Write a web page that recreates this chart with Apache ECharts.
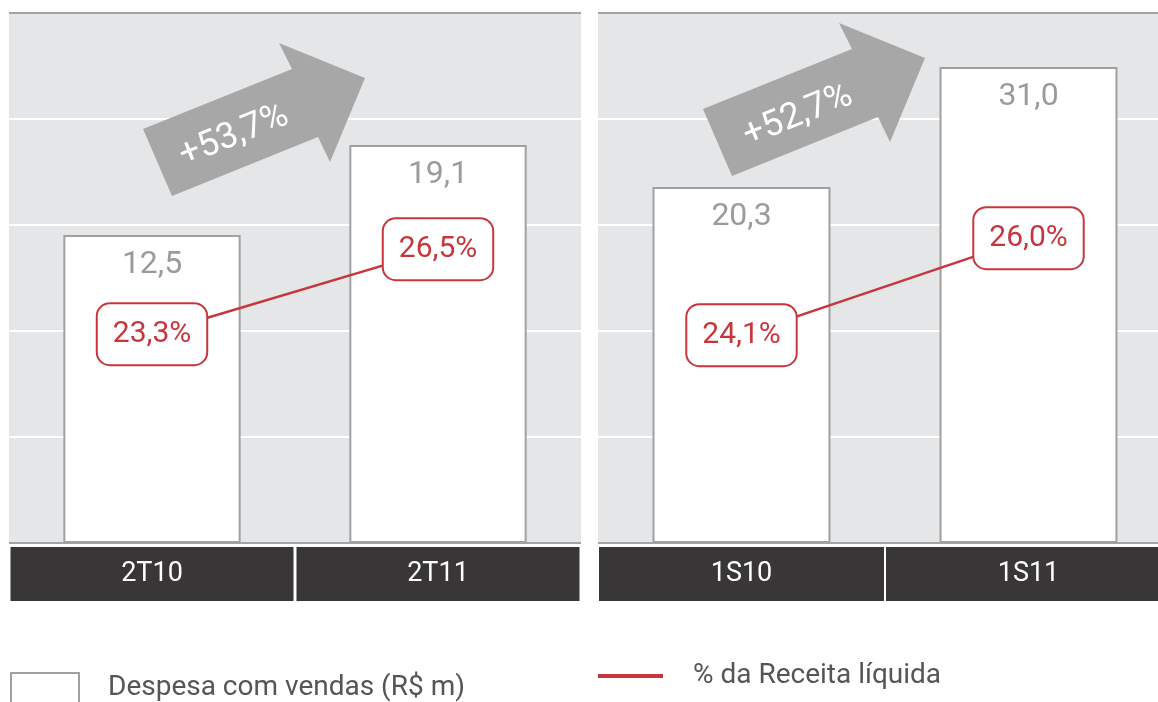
<!DOCTYPE html>
<html lang="pt">
<head>
<meta charset="utf-8" />
<title>Despesa com vendas</title>
<script src="https://cdn.jsdelivr.net/npm/echarts@6/dist/echarts.min.js"></script>
<style>
	html,body{margin:0;padding:0;background:#fff;overflow:hidden;}
	#main{width:1158px;height:702px;}
</style>
</head>
<body>
<div id="main"></div>
<script>
// dados
var catsA = ['2T10', '2T11'];
var catsB = ['1S10', '1S11'];
var despesaA = [12.5, 19.1];
var despesaB = [20.3, 31.0];
var receitaA = [23.3, 26.5];
var receitaB = [24.1, 26.0];
var growthLabels = ['+53,7%', '+52,7%'];
var legendNames = ['Despesa com vendas (R$ m)', '% da Receita líquida'];

var RED = '#c8363d';
var FONT = 'Roboto';

function fmt(v){ return v.toFixed(1).replace('.', ','); }

function gridAxis(g){
	return {
		gridIndex: g, type: 'value', min: 0, max: 5, interval: 1,
		axisLine: {show: false}, axisTick: {show: false}, axisLabel: {show: false},
		splitLine: {show: true, lineStyle: {width: 2, color: ['#a3a3a3', '#fff', '#fff', '#fff', '#fff', '#a3a3a3']}}
	};
}
function hiddenAxis(g, mn, mx){
	return {gridIndex: g, type: 'value', min: mn, max: mx, startValue: mn, show: false, splitLine: {show: false}};
}
function catAxis(g, cats, w){
	return {
		gridIndex: g, type: 'category', data: cats,
		axisLine: {show: false}, axisTick: {show: false},
		axisLabel: {
			interval: 0, margin: 4, color: '#fff', fontFamily: FONT, fontSize: 27, fontWeight: 'normal',
			backgroundColor: '#383637', width: w, height: 54, lineHeight: 54, align: 'center', verticalAlign: 'top'
		}
	};
}
function barSeries(x, y, data){
	return {
		name: legendNames[0], type: 'bar', xAxisIndex: x, yAxisIndex: y, data: data, barWidth: '62%',
		itemStyle: {color: '#fff', borderColor: '#a0a0a0', borderWidth: 2},
		label: {show: true, position: 'insideTop', distance: 14, fontFamily: FONT, fontSize: 32, color: '#9b9b9b',
			formatter: function(p){ return fmt(p.value); }}
	};
}
function lineSeries(x, y, data){
	return {
		name: legendNames[1], type: 'line', xAxisIndex: x, yAxisIndex: y, data: data,
		color: RED, lineStyle: {color: RED, width: 2.5}, symbol: 'circle', symbolSize: 2,
		label: {show: true, position: 'inside', fontFamily: FONT, fontSize: 30, color: RED,
			backgroundColor: '#fff', borderColor: RED, borderWidth: 2, borderRadius: 12, padding: [15, 15],
			formatter: function(p){ return fmt(p.value) + '%'; }}
	};
}

var arrowShape = [[0,0],[149,-60],[136,-86],[222,-51],[187,33],[175,8],[29,67]];

var myChart = echarts.init(document.getElementById('main'));
var option = {
	animation: false,
	backgroundColor: '#fff',
	grid: [
		{left: 9, top: 13, width: 572, height: 530, show: true, backgroundColor: '#e5e6e8', borderWidth: 0, outerBoundsMode: 'none'},
		{left: 598, top: 13, width: 574, height: 530, show: true, backgroundColor: '#e5e6e8', borderWidth: 0, outerBoundsMode: 'none'}
	],
	xAxis: [catAxis(0, catsA, 283), catAxis(1, catsB, 285)],
	yAxis: [
		gridAxis(0), hiddenAxis(0, -10.08, 28.78), hiddenAxis(0, 15.44, 35.39),
		gridAxis(1), hiddenAxis(1, -11.44, 35.82), hiddenAxis(1, 20.03, 30.41)
	],
	legend: [
		{data: [{name: legendNames[0], icon: 'rect'}], left: 10, top: 672, padding: 0, itemWidth: 68, itemHeight: 30, selectedMode: false,
			textStyle: {fontFamily: FONT, fontSize: 28, color: '#555', padding: [0, 0, 0, 24]}},
		{data: [{name: legendNames[1], icon: 'rect', itemStyle: {color: RED}}], left: 598, top: 662, padding: 0,
			itemWidth: 65, itemHeight: 4, selectedMode: false,
			textStyle: {fontFamily: FONT, fontSize: 28, color: '#555', padding: [0, 0, 0, 25]}}
	],
	graphic: [
		{type: 'polygon', x: 143, y: 129, z: 10, shape: {points: arrowShape}, style: {fill: '#a7a7a7'}},
		{type: 'polygon', x: 703, y: 109, z: 10, shape: {points: arrowShape}, style: {fill: '#a7a7a7'}},
		{type: 'text', x: 234, y: 136, rotation: 0.384, z: 11,
			style: {text: growthLabels[0], fill: '#fff', font: '36px Roboto', align: 'center', verticalAlign: 'middle'}},
		{type: 'text', x: 798, y: 116, rotation: 0.384, z: 11,
			style: {text: growthLabels[1], fill: '#fff', font: '36px Roboto', align: 'center', verticalAlign: 'middle'}}
	],
	series: [
		barSeries(0, 1, despesaA),
		lineSeries(0, 2, receitaA),
		barSeries(1, 4, despesaB),
		lineSeries(1, 5, receitaB)
	]
};
myChart.setOption(option);
</script>
</body>
</html>
